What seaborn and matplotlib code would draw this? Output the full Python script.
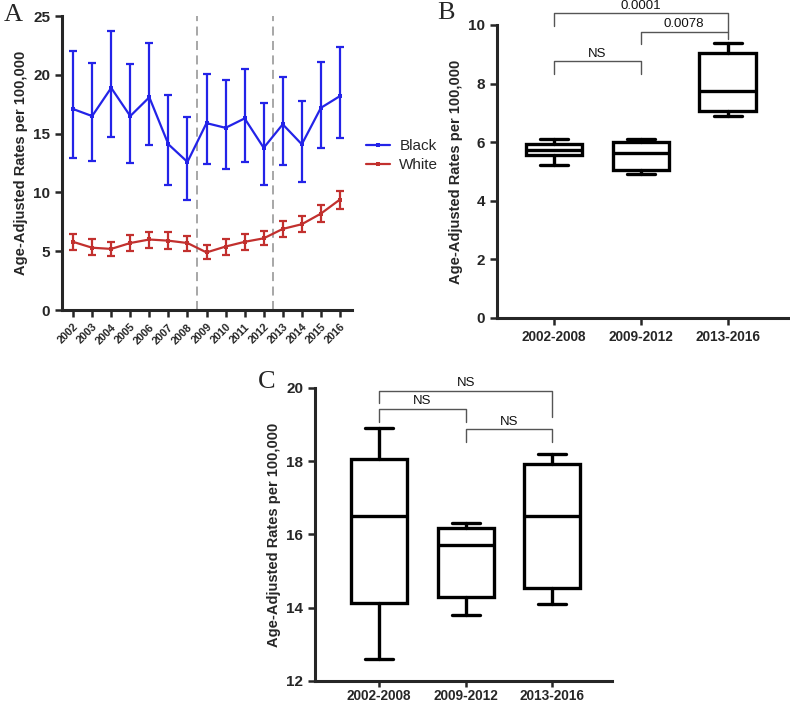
import numpy as np
import pandas as pd
import matplotlib
matplotlib.use("Agg")
import matplotlib.pyplot as plt
import seaborn as sns

# panel A: yearly age-adjusted rates with 95% CI
years = list(range(2002, 2017))
black = [17.1, 16.5, 18.9, 16.5, 18.1, 14.1, 12.6, 15.9, 15.5, 16.3, 13.8, 15.8, 14.1, 17.2, 18.2]
black_lo = [12.9, 12.7, 14.7, 12.5, 14.0, 10.6, 9.4, 12.4, 12.0, 12.6, 10.6, 12.3, 10.9, 13.8, 14.6]
black_hi = [22.0, 21.0, 23.7, 20.9, 22.7, 18.3, 16.4, 20.1, 19.6, 20.5, 17.6, 19.8, 17.8, 21.1, 22.4]
white = [5.8, 5.3, 5.2, 5.7, 6.0, 5.9, 5.7, 4.9, 5.4, 5.8, 6.1, 6.9, 7.3, 8.2, 9.4]
white_lo = [5.1, 4.7, 4.6, 5.0, 5.3, 5.2, 5.0, 4.3, 4.7, 5.1, 5.5, 6.2, 6.6, 7.5, 8.6]
white_hi = [6.5, 6.0, 5.8, 6.4, 6.6, 6.6, 6.3, 5.5, 6.0, 6.5, 6.7, 7.6, 8.0, 8.9, 10.1]

# panels B and C: five-number summaries per period
periods = ["2002-2008", "2009-2012", "2013-2016"]
b_min = [5.22, 4.91, 6.89]
b_q1 = [5.56, 5.05, 7.06]
b_med = [5.73, 5.62, 7.75]
b_q3 = [5.93, 6.00, 9.05]
b_max = [6.10, 6.10, 9.40]
c_min = [12.60, 13.80, 14.10]
c_q1 = [14.14, 14.28, 14.55]
c_med = [16.51, 15.70, 16.51]
c_q3 = [18.07, 16.17, 17.92]
c_max = [18.92, 16.31, 18.20]

b_pvals = ["NS", "0.0078", "0.0001"]
c_pvals = ["NS", "NS", "NS"]

BLUE = "#2323e8"
RED = "#c2302e"
YLABEL = "Age-Adjusted Rates per 100,000"

sns.set_style("ticks")
plt.rcParams["font.family"] = ["Liberation Sans", "DejaVu Sans"]
plt.rcParams["axes.linewidth"] = 2.2
plt.rcParams["xtick.major.width"] = 1.8
plt.rcParams["ytick.major.width"] = 1.8
plt.rcParams["xtick.major.size"] = 5
plt.rcParams["ytick.major.size"] = 5

fig = plt.figure(figsize=(7.9, 7.03), dpi=100)
axA = fig.add_axes([0.0785, 0.559, 0.367, 0.418])
axB = fig.add_axes([0.629, 0.5477, 0.368, 0.4168])
axC = fig.add_axes([0.3987, 0.0313, 0.376, 0.4168])


def style_axis(ax, ysize=11):
    sns.despine(ax=ax)
    for lab in ax.get_yticklabels():
        lab.set_fontweight("bold")
        lab.set_fontsize(ysize)
    ax.set_ylabel(YLABEL, fontsize=10.5, fontweight="bold")


# ---- panel A
df = pd.DataFrame({
    "year": years * 2,
    "rate": black + white,
    "race": ["Black"] * len(years) + ["White"] * len(years),
})
sns.lineplot(data=df, x="year", y="rate", hue="race", palette={"Black": BLUE, "White": RED},
             marker="s", markersize=3.5, markeredgewidth=0, linewidth=1.6, ax=axA)
for vals, lo, hi, col in [(black, black_lo, black_hi, BLUE), (white, white_lo, white_hi, RED)]:
    v = np.array(vals)
    yerr = [v - np.array(lo), np.array(hi) - v]
    axA.errorbar(years, v, yerr=yerr, fmt="none", ecolor=col, elinewidth=1.6,
                 capsize=3, capthick=1.6)
for xv in (2008.5, 2012.5):
    axA.axvline(xv, color="#a0a0a0", lw=1.3, ls=(0, (5, 3)), zorder=0)
axA.set_xlim(2002 - 0.58, 2016 + 0.63)
axA.set_ylim(0, 25)
axA.set_yticks([0, 5, 10, 15, 20, 25])
axA.set_xticks(years)
axA.set_xticklabels([str(y) for y in years], rotation=45, ha="right", rotation_mode="anchor",
                    fontsize=7.8, fontweight="bold")
axA.set_xlabel("")
style_axis(axA)
axA.legend(title=None, frameon=False, loc="center left", bbox_to_anchor=(1.0, 0.525),
           fontsize=11, handlelength=1.6, labelspacing=0.35, handletextpad=0.6)


# ---- panels B and C
def draw_boxes(ax, mins, q1s, meds, q3s, maxs):
    stats = []
    for i in range(len(periods)):
        stats.append({"whislo": mins[i], "q1": q1s[i], "med": meds[i], "q3": q3s[i],
                      "whishi": maxs[i], "fliers": [], "label": periods[i]})
    lp = dict(color="black", linewidth=2.4)
    ax.bxp(stats, positions=range(len(periods)), widths=0.65, showfliers=False,
           patch_artist=True,
           boxprops=dict(facecolor="white", edgecolor="black", linewidth=2.4),
           medianprops=lp, whiskerprops=lp, capprops=lp)
    ax.set_xticks(range(len(periods)))
    ax.set_xticklabels(periods, fontsize=9.8, fontweight="bold")


def bracket(ax, x0, x1, y, left_drop, right_drop, text):
    ax.plot([x0, x0, x1, x1], [y - left_drop, y, y, y - right_drop], color="#555555",
            lw=1.0, clip_on=False)
    ax.text((x0 + x1) / 2, y + 0.005 * (ax.get_ylim()[1] - ax.get_ylim()[0]), text,
            ha="center", va="bottom", fontsize=9.5, color="#111111", clip_on=False)


draw_boxes(axB, b_min, b_q1, b_med, b_q3, b_max)
axB.set_xlim(-0.655, 2.69)
axB.set_ylim(0, 10)
axB.set_yticks([0, 2, 4, 6, 8, 10])
style_axis(axB)
bracket(axB, 0, 1, 8.77, 0.44, 0.44, b_pvals[0])
bracket(axB, 1, 2, 9.77, 0.42, 0.25, b_pvals[1])
bracket(axB, 0, 2, 10.40, 0.43, 0.63, b_pvals[2])

draw_boxes(axC, c_min, c_q1, c_med, c_q3, c_max)
axC.set_xlim(-0.74, 2.69)
axC.set_ylim(12, 20)
axC.set_yticks([12, 14, 16, 18, 20])
axC.tick_params(axis="x", pad=1.2, length=4.5)
style_axis(axC)
bracket(axC, 0, 1, 19.43, 0.35, 0.35, c_pvals[0])
bracket(axC, 1, 2, 18.88, 0.35, 0.35, c_pvals[1])
bracket(axC, 0, 2, 19.92, 0.32, 0.72, c_pvals[2])

for x, y, s in [(0.005, 0.995, "A"), (0.553, 0.997, "B"), (0.327, 0.472, "C")]:
    fig.text(x, y, s, ha="left", va="top", fontsize=19, family="Liberation Serif")

fig.savefig("out.png", dpi=100)
